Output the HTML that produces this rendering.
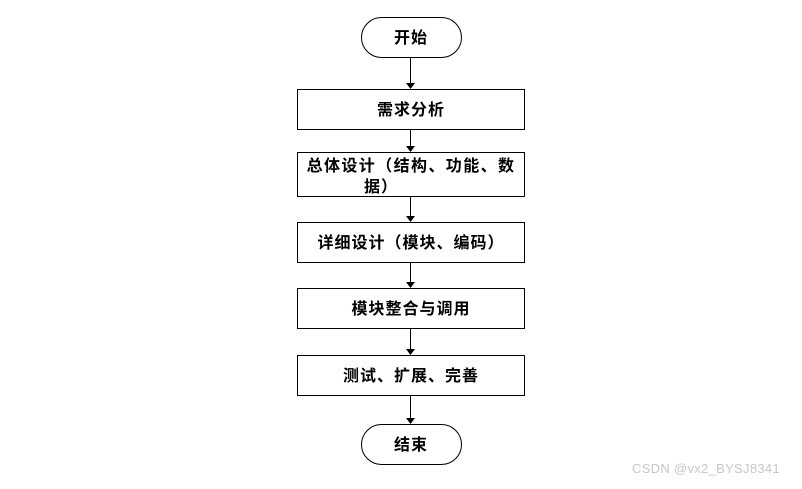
<!DOCTYPE html>
<html><head><meta charset="utf-8"><style>
body{margin:0;background:#fff;}
svg text{font-family:"Liberation Sans","Noto Sans CJK SC",sans-serif;font-weight:bold;font-size:16px;letter-spacing:1px;fill:#000;}
</style></head><body>
<svg width="802" height="484" xmlns="http://www.w3.org/2000/svg">
<g stroke="#000" stroke-width="1" fill="#fff">
<rect x="361.5" y="17.5" width="100" height="40" rx="20"/>
<rect x="297.5" y="89.5" width="227" height="40"/>
<rect x="297.5" y="152.5" width="227" height="44"/>
<rect x="297.5" y="222.5" width="227" height="40"/>
<rect x="297.5" y="288.5" width="227" height="40"/>
<rect x="297.5" y="355.5" width="227" height="40"/>
<rect x="361.5" y="424.5" width="100" height="40" rx="20"/>
<line x1="410.5" y1="57" x2="410.5" y2="84"/>
<line x1="410.5" y1="129" x2="410.5" y2="147"/>
<line x1="410.5" y1="196" x2="410.5" y2="217"/>
<line x1="410.5" y1="262" x2="410.5" y2="283"/>
<line x1="410.5" y1="328" x2="410.5" y2="350"/>
<line x1="410.5" y1="395" x2="410.5" y2="419"/>
</g>
<g fill="#000">
<polygon points="406,83 415,83 410.5,89"/>
<polygon points="406,146 415,146 410.5,152"/>
<polygon points="406,216 415,216 410.5,222"/>
<polygon points="406,282 415,282 410.5,288"/>
<polygon points="406,349 415,349 410.5,355"/>
<polygon points="406,418 415,418 410.5,424"/>
</g>
<g text-anchor="middle">
<text x="411" y="43">开始</text>
<text x="411" y="115">需求分析</text>
<text x="411" y="171" style="letter-spacing:1.4px">总体设计（结构、功能、数</text>
<text x="381" y="192">据）</text>
<text x="411" y="248">详细设计（模块、编码）</text>
<text x="411" y="314">模块整合与调用</text>
<text x="411" y="381">测试、扩展、完善</text>
<text x="411" y="450">结束</text>
</g>
<text x="632" y="473" style="font-weight:normal;font-size:13px;letter-spacing:0.3px;fill:#c8c8c8">CSDN @vx2_BYSJ8341</text>
</svg>
</body></html>
